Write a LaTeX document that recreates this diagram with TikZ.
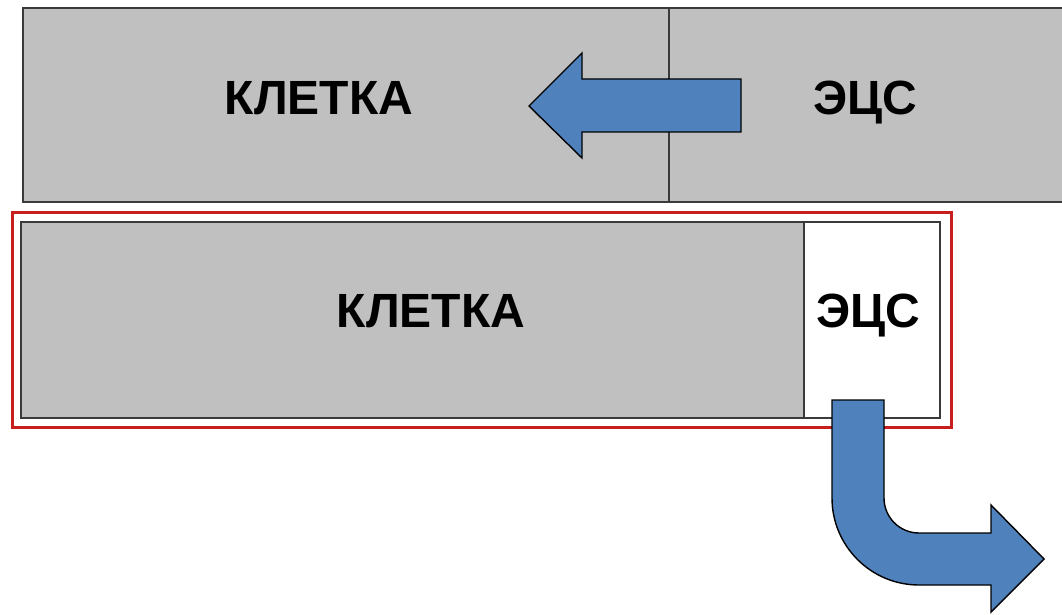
\documentclass[tikz,border=0pt]{standalone}
\usepackage{fontspec}
\setmainfont{Liberation Sans}
\definecolor{cellgray}{HTML}{C0C0C0}
\definecolor{arrowblue}{HTML}{4F81BD}
\definecolor{framered}{HTML}{C81E1E}
\definecolor{edgegray}{HTML}{3A3A3A}
\begin{document}
\begin{tikzpicture}[x=1pt,y=1pt,
  cell/.style={fill=cellgray,draw=edgegray,line width=1.6pt},
  whitecell/.style={fill=white,draw=edgegray,line width=1.6pt},
  blockarrow/.style={fill=arrowblue,draw=black,line width=1.4pt,line join=miter},
  label/.style={font=\bfseries\fontsize{48}{52}\selectfont,anchor=base,inner sep=0pt}]
\useasboundingbox (0,0) rectangle (1062,614);
\clip (0,0) rectangle (1062,614);

% upper strip: cell and the signal circuit part
\draw[cell] (23,606) rectangle (669,412);
\draw[cell] (669,606) rectangle (1075,412);
\node[label] (cellA) at (319,499) {КЛЕТКА};
\node[label] (ecsA) at (865,499) {ЭЦС};

% arrow pointing into the cell
\draw[blockarrow] (741,535) -- (582,535) -- (582,561) -- (529,508)
  -- (582,456) -- (582,482) -- (741,482) -- cycle;

% lower strip inside the red frame
\draw[framered,line width=3pt] (12,401) rectangle (951,187);
\draw[cell] (21,392) rectangle (804,196);
\draw[whitecell] (804,392) rectangle (940,196);
\node[label] (cellB) at (431,287) {КЛЕТКА};
\node[label] (ecsB) at (868,287) {ЭЦС};

% bent arrow leaving the circuit part
\draw[blockarrow] (832,214) -- (884,214) -- (884,116)
  arc[start angle=180,end angle=270,radius=35pt] -- (991,81) -- (991,109)
  -- (1044,55) -- (991,2) -- (991,29) -- (919,29)
  arc[start angle=270,end angle=180,radius=87pt] -- cycle;
\end{tikzpicture}
\end{document}
